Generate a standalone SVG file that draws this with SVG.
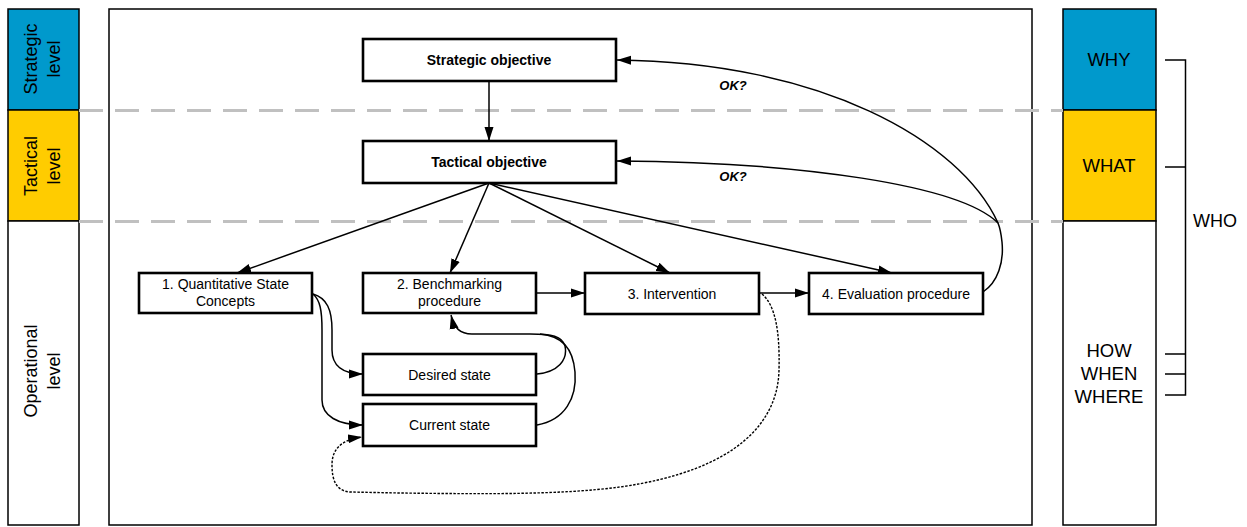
<svg xmlns="http://www.w3.org/2000/svg" width="1247" height="527" viewBox="0 0 1247 527">
<style>
text{font-family:"Liberation Sans",Arial,sans-serif;fill:#000}
.lab{font-size:18px}
.rl{font-size:18.5px;text-anchor:middle}
.box{fill:#fff;stroke:#000;stroke-width:2.6}
.bt{font-size:14px;text-anchor:middle}
.bb{font-size:14px;font-weight:bold;text-anchor:middle}
.col{stroke:#000;stroke-width:1.5}
.con{fill:none;stroke:#000;stroke-width:1.5}
.dash{stroke:#c0c0c0;stroke-width:3;stroke-dasharray:24 12;fill:none}
</style>
<defs>
<marker id="ah" viewBox="0 0 14 10" refX="14" refY="5" markerWidth="14" markerHeight="10" markerUnits="userSpaceOnUse" orient="auto">
<path d="M0,0.5 L14,5 L0,9.5 z" fill="#000"/>
</marker>
</defs>
<rect width="1247" height="527" fill="#fff"/>
<g id="left-column">
<rect x="8" y="9" width="71" height="101" fill="#0099cc" class="col"/>
<rect x="8" y="110" width="71" height="111" fill="#ffcc00" class="col"/>
<rect x="8" y="221" width="71" height="304" fill="#fff" class="col"/>
<text class="lab" text-anchor="middle" transform="translate(43,59) rotate(-90)"><tspan x="0" y="-6.5">Strategic</tspan><tspan x="0" y="16.5">level</tspan></text>
<text class="lab" text-anchor="middle" transform="translate(43,166) rotate(-90)"><tspan x="0" y="-6.5">Tactical</tspan><tspan x="0" y="16.5">level</tspan></text>
<text class="lab" text-anchor="middle" transform="translate(43,371) rotate(-90)"><tspan x="0" y="-6.5">Operational</tspan><tspan x="0" y="16.5">level</tspan></text>
</g>
<g id="main-frame">
<rect x="109" y="9" width="923" height="516" fill="#fff" class="col"/>
</g>
<g id="right-column">
<rect x="1063" y="9" width="93" height="101" fill="#0099cc" class="col"/>
<rect x="1063" y="110" width="93" height="111" fill="#ffcc00" class="col"/>
<rect x="1063" y="221" width="93" height="304" fill="#fff" class="col"/>
<text class="rl" x="1109" y="66">WHY</text>
<text class="rl" x="1109" y="171.5">WHAT</text>
<text class="rl" x="1109" y="357">HOW</text>
<text class="rl" x="1109" y="380">WHEN</text>
<text class="rl" x="1109" y="403">WHERE</text>
</g>
<g id="dividers">
<line x1="79" y1="110.5" x2="1063" y2="110.5" class="dash"/>
<line x1="79" y1="221.5" x2="1063" y2="221.5" class="dash"/>
</g>
<g id="who-bracket">
<path d="M1165,60 H1185.5 V395 H1165 M1165,167 H1185.5 M1165,354 H1185.5 M1165,374 H1185.5" fill="none" stroke="#000" stroke-width="1.5"/>
<text class="lab" font-size="18.5" x="1193" y="226.5">WHO</text>
</g>
<g id="connectors">
<line x1="489" y1="81" x2="489" y2="141" class="con" marker-end="url(#ah)"/>
<line x1="489" y1="183" x2="237" y2="273" class="con" marker-end="url(#ah)"/>
<line x1="489" y1="183" x2="450" y2="273" class="con" marker-end="url(#ah)"/>
<line x1="489" y1="183" x2="670" y2="273" class="con" marker-end="url(#ah)"/>
<line x1="489" y1="183" x2="892" y2="273" class="con" marker-end="url(#ah)"/>
<line x1="536" y1="293" x2="585" y2="293" class="con" marker-end="url(#ah)"/>
<line x1="759" y1="293" x2="809" y2="293" class="con" marker-end="url(#ah)"/>
<path d="M313,294 C327,298 332,310 332,330 L332,350 C332,365 342,374 363,374" class="con" marker-end="url(#ah)"/>
<path d="M313,294 C320,300 322,310 322,330 L322,400 C322,416 338,425 363,425" class="con" marker-end="url(#ah)"/>
<path d="M537,374 C558,372 568,360 565,346 C562,336 552,334 530,334 L472,334 C460,334 454,328 451,315" class="con" marker-end="url(#ah)"/>
<path d="M537,425 C565,420 577,398 575,372 C573,348 562,336 540,334" class="con"/>
<path d="M762,294 C775,305 780,330 779,370 C778,420 740,470 620,487 C560,495 480,494 400,493 L350,492 C336,491 332,480 332,465 C332,450 340,440 362,437" fill="none" stroke="#000" stroke-width="1.4" stroke-dasharray="2.5 1.5" marker-end="url(#ah)"/>
<path d="M983,292 C998,282 1004,262 1002,242 C1001,232 1000,228 998,223 C960,140 820,62 617,60" class="con" marker-end="url(#ah)"/>
<path d="M998,223 C960,185 800,162 617,161" class="con" marker-end="url(#ah)"/>
<text x="733" y="90" font-size="13" font-weight="bold" font-style="italic" text-anchor="middle">OK?</text>
<text x="733" y="180.5" font-size="13" font-weight="bold" font-style="italic" text-anchor="middle">OK?</text>
</g>
<g id="strategic-objective">
<rect x="363" y="39" width="253" height="42" class="box"/>
<text class="bb" x="489" y="65">Strategic objective</text>
</g>
<g id="tactical-objective">
<rect x="363" y="141" width="253" height="42" class="box"/>
<text class="bb" x="489" y="167">Tactical objective</text>
</g>
<g id="quantitative-state-concepts">
<rect x="139" y="273" width="173" height="40" class="box"/>
<text class="bt" x="225.5" y="288.5">1. Quantitative State</text>
<text class="bt" x="225.5" y="305.5">Concepts</text>
</g>
<g id="benchmarking-procedure">
<rect x="363" y="273" width="173" height="40" class="box"/>
<text class="bt" x="449.5" y="288.5">2. Benchmarking</text>
<text class="bt" x="449.5" y="305.5">procedure</text>
</g>
<g id="intervention">
<rect x="585" y="273" width="174" height="41" class="box"/>
<text class="bt" x="672" y="298.5">3. Intervention</text>
</g>
<g id="evaluation-procedure">
<rect x="809" y="273" width="174" height="41" class="box"/>
<text class="bt" x="896" y="298.5">4. Evaluation procedure</text>
</g>
<g id="desired-state">
<rect x="363" y="354" width="173" height="41" class="box"/>
<text class="bt" x="449.5" y="379.5">Desired state</text>
</g>
<g id="current-state">
<rect x="363" y="404" width="173" height="42" class="box"/>
<text class="bt" x="449.5" y="430">Current state</text>
</g>
</svg>
